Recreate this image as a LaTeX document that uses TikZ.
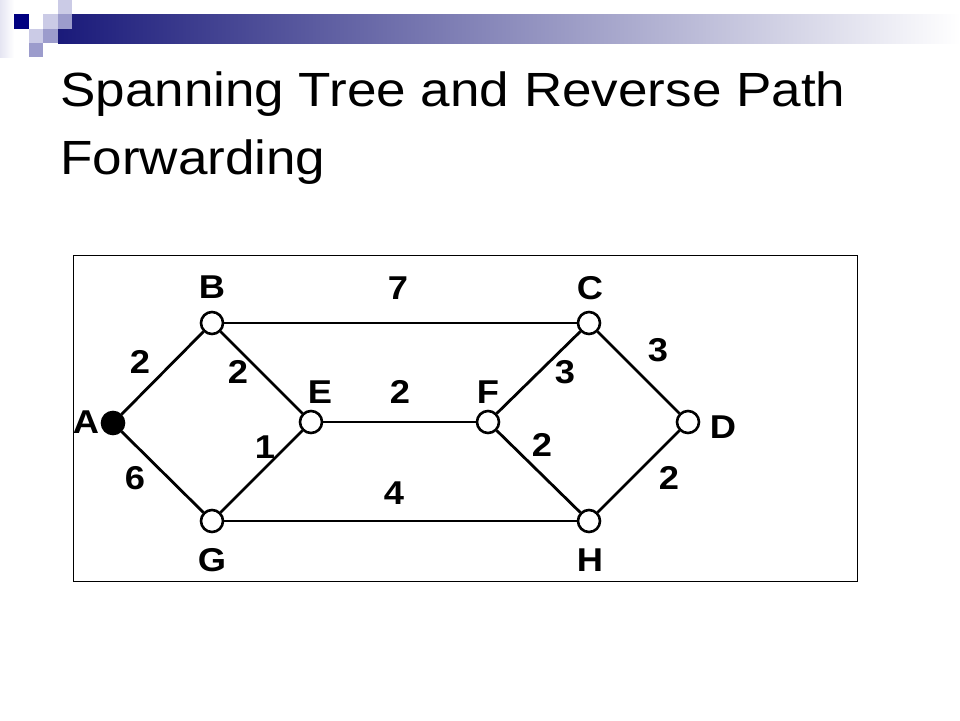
\documentclass[tikz,border=0pt]{standalone}
\usepackage{fontspec}
\setmainfont{Liberation Sans}
\newfontfamily\titlefont[FakeStretch=1.105]{Liberation Sans}
\newfontfamily\tagfont[FakeStretch=1.1]{Liberation Sans Bold}
\usepackage{xcolor}
\usetikzlibrary{positioning}
\definecolor{barnavy}{HTML}{1A1A7A}
\definecolor{sqnavy}{HTML}{000080}
\definecolor{sqlight}{HTML}{CBCBE6}
\definecolor{sqmid}{HTML}{9C9CCC}
\tikzstyle{edge} = [line width=2.8pt]

\begin{document}
\begin{tikzpicture}[
    x=1pt, y=-1pt,
    router/.style={circle, draw, line width=2.6pt, fill=white, minimum size=22pt, inner sep=0pt},
    source/.style={router, fill=black},
    tag/.style={inner sep=0pt, font=\tagfont\fontsize{33}{38}\selectfont},
    title/.style={inner sep=0pt, anchor=base west, font=\titlefont\fontsize{48}{69}\selectfont}
  ]
  \useasboundingbox (0,0) rectangle (960,720);

  % slide decoration
  \shade[left color=sqlight!50, right color=white] (0,0) rectangle (14,57);
  \shade[left color=barnavy, right color=white] (58,14) rectangle (960,43);
  \fill[sqnavy] (14,14) rectangle (29,29);
  \fill[sqlight] (58,0) rectangle (72,14);
  \fill[sqlight] (43,14) rectangle (58,29);
  \fill[sqmid] (58,14) rectangle (72,29);
  \fill[sqlight] (29,29) rectangle (43,43);
  \fill[sqmid] (43,29) rectangle (58,43);
  \fill[sqmid] (29,43) rectangle (43,57);

  \node[title] (t1) at (60,106) {Spanning Tree and Reverse Path};
  \node[title] (t2) at (60,174) {Forwarding};

  % figure frame
  \draw[line width=1pt] (73,255) rectangle (857,581);

  % routers
  \node[source] (A) at (113,423) {};
  \node[router] (B) at (212,323) {};
  \node[router] (C) at (589,323) {};
  \node[router] (D) at (688,422) {};
  \node[router] (E) at (311,422) {};
  \node[router] (F) at (488,422) {};
  \node[router] (G) at (212,521) {};
  \node[router] (H) at (589,521) {};

  % links
  \draw[edge] (A) -- (B);
  \draw[edge] (A) -- (G);
  \draw[edge] (B) -- (E);
  \draw[edge] (G) -- (E);
  \draw[edge] (B) -- (C);
  \draw[edge] (E) -- (F);
  \draw[edge] (G) -- (H);
  \draw[edge] (F) -- (C);
  \draw[edge] (F) -- (H);
  \draw[edge] (C) -- (D);
  \draw[edge] (H) -- (D);

  % router names
  \node[tag] (nA) at (86,422) {A};
  \node[tag] (nB) at (212,287) {B};
  \node[tag] (nC) at (590,288) {C};
  \node[tag] (nD) at (723,427) {D};
  \node[tag] (nE) at (320,392) {E};
  \node[tag] (nF) at (488,392) {F};
  \node[tag] (nG) at (212,560) {G};
  \node[tag] (nH) at (590,560) {H};

  % link costs
  \node[tag] (wAB) at (140,362) {2};
  \node[tag] (wBE) at (238,372) {2};
  \node[tag] (wAG) at (135,478) {6};
  \node[tag] (wGE) at (265,447) {1};
  \node[tag] (wBC) at (398,288) {7};
  \node[tag] (wEF) at (400,392) {2};
  \node[tag] (wGH) at (394,493) {4};
  \node[tag] (wFC) at (565,372) {3};
  \node[tag] (wCD) at (658,350) {3};
  \node[tag] (wFH) at (542,445) {2};
  \node[tag] (wHD) at (669,478) {2};

\end{tikzpicture}
\end{document}
